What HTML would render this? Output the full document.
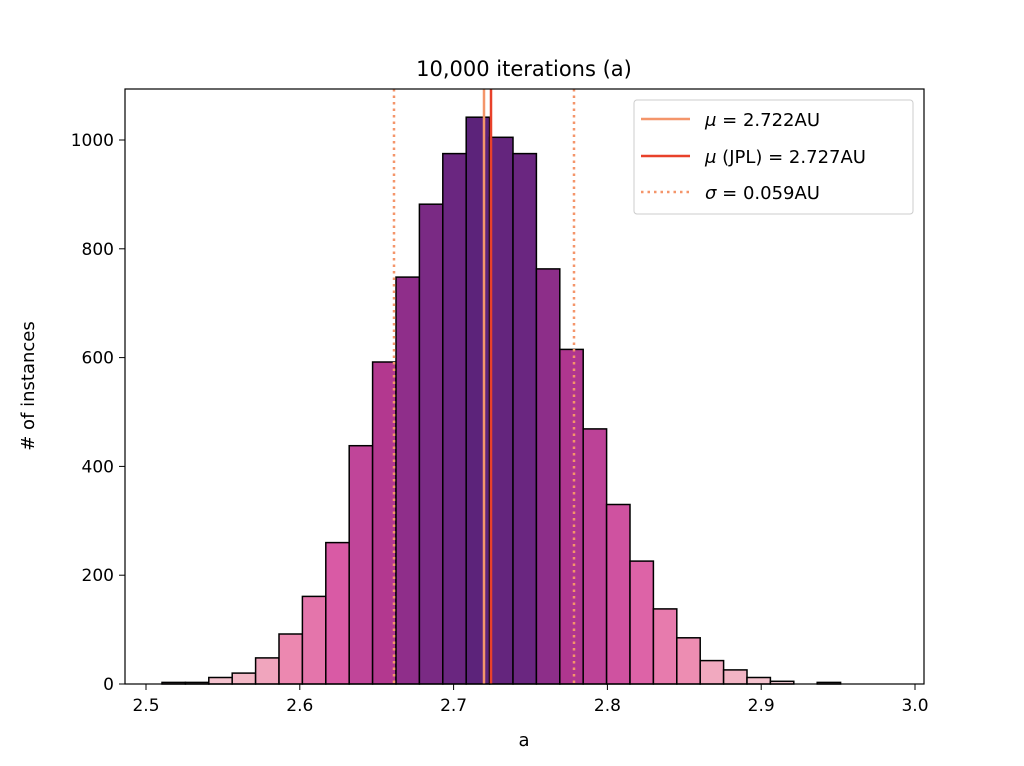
<!DOCTYPE html>
<html><head><meta charset="utf-8"><style>body{margin:0;background:#fff}svg{display:block}text{font-family:"DejaVu Sans","Liberation Sans",sans-serif;fill:#000}</style></head>
<body>
<svg id="s" width="1024" height="766" viewBox="0 0 1024 766" xmlns="http://www.w3.org/2000/svg">
<g id="bars"></g>
<line x1="394" y1="89" x2="394" y2="684" stroke="#f4956a" stroke-width="2.5" stroke-dasharray="2.5,4"/>
<line x1="574" y1="89" x2="574" y2="684" stroke="#f4956a" stroke-width="2.5" stroke-dasharray="2.5,4"/>
<line x1="484" y1="89" x2="484" y2="684" stroke="#f4956a" stroke-width="2.5"/>
<line x1="491" y1="89" x2="491" y2="684" stroke="#e8412a" stroke-width="2.5"/>
<rect x="125" y="89" width="799" height="595" fill="none" stroke="#000" stroke-width="1.2"/>
<g id="ticks" font-size="17"></g>
<text x="524" y="76" font-size="21" text-anchor="middle">10,000 iterations (a)</text>
<text x="524" y="746" font-size="18" text-anchor="middle">a</text>
<text transform="translate(34,386) rotate(-90)" font-size="18" text-anchor="middle"># of instances</text>
<rect x="634" y="100" width="279" height="114" rx="3" fill="#fff" stroke="#ccc" stroke-width="1"/>
<line x1="641" y1="119" x2="690" y2="119" stroke="#f4956a" stroke-width="2.5"/>
<line x1="641" y1="156" x2="690" y2="156" stroke="#e8412a" stroke-width="2.5"/>
<line x1="641" y1="192" x2="690" y2="192" stroke="#f4956a" stroke-width="2.5" stroke-dasharray="2.5,4"/>
<text x="705" y="126" font-size="18"><tspan font-style="italic">μ</tspan> = 2.722AU</text>
<text x="705" y="163" font-size="18"><tspan font-style="italic">μ</tspan> (JPL) = 2.727AU</text>
<text x="705" y="199" font-size="18"><tspan font-style="italic">σ</tspan> = 0.059AU</text>
</svg>
<script>
var h=[3,3,12,20,48,92,161,260,438,592,748,882,975,1042,1005,975,763,615,469,330,226,138,85,43,26,12,5,0,3];
var stops=[[0,[246,210,218]],[20,[243,184,198]],[92,[236,136,176]],[260,[217,90,165]],[450,[190,68,152]],[600,[178,55,143]],[750,[143,46,138]],[880,[122,42,132]],[975,[106,38,128]],[1042,[92,35,122]]];
function col(v){for(var i=1;i<stops.length;i++){if(v<=stops[i][0]){var a=stops[i-1],b=stops[i],t=(v-a[0])/(b[0]-a[0]);return 'rgb('+a[1].map((c,k)=>Math.round(c+(b[1][k]-c)*t)).join(',')+')';}}return 'rgb(92,35,122)';}
var g=document.getElementById('bars'),s='';
var w=23.4;
h.forEach(function(v,i){if(v<=0)return;var x=162+w*i,hh=v*0.544;s+='<rect x="'+x.toFixed(1)+'" y="'+(684-hh).toFixed(1)+'" width="'+w+'" height="'+hh.toFixed(1)+'" fill="'+col(v)+'" stroke="#000" stroke-width="1.5"/>';});
g.innerHTML=s;
var t='';
for(var i=0;i<=5;i++){var x=146+153.8*i;t+='<line x1="'+x+'" y1="684" x2="'+x+'" y2="690" stroke="#000"/><text x="'+x+'" y="711" text-anchor="middle">'+(2.5+i*0.1).toFixed(1)+'</text>';}
for(var j=0;j<=5;j++){var y=684-j*200*0.544;t+='<line x1="119" y1="'+y+'" x2="125" y2="'+y+'" stroke="#000"/><text x="114" y="'+(y+6)+'" text-anchor="end">'+(j*200)+'</text>';}
document.getElementById('ticks').innerHTML=t;
</script>
</body></html>
